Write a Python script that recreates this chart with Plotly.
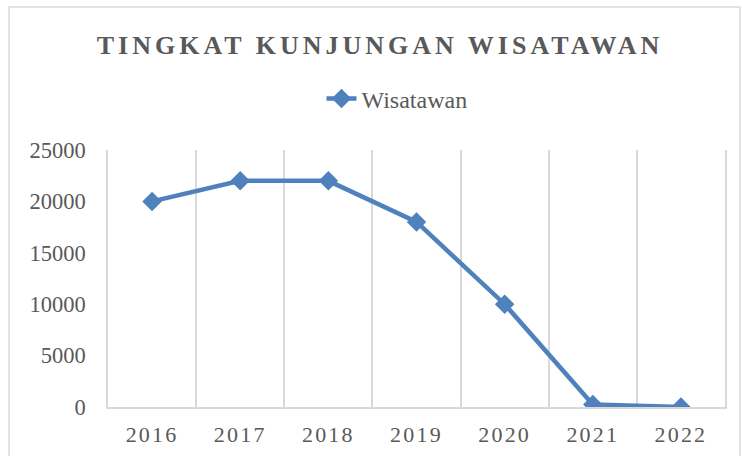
import plotly.graph_objects as go

years = ["2016", "2017", "2018", "2019", "2020", "2021", "2022"]
visitors = [20000, 22000, 22000, 18000, 10000, 250, 10]
series_name = "Wisatawan"
title_text = "TINGKAT KUNJUNGAN WISATAWAN"

BLUE = "#4F81BD"
GRID = "#D9D9D9"
TXT = "#595959"
FONT = "Liberation Serif, Times New Roman, serif"

fig = go.Figure()
fig.add_trace(go.Scatter(
    x=years, y=visitors, name=series_name, mode="lines+markers",
    line=dict(color=BLUE, width=4.5),
    marker=dict(symbol="diamond", size=15, color=BLUE),
))

L, R, T, B = 108, 17, 150, 49
W, H = 742, 456
pw, ph = W - L - R, H - T - B

def px_x(x):
    return (x - L) / pw

def px_y(y):
    return (H - B - y) / ph

fig.add_shape(type="rect", xref="paper", yref="paper",
              x0=px_x(9), x1=px_x(740), y0=px_y(470), y1=px_y(7),
              line=dict(color=GRID, width=1.5), layer="below")

fig.update_layout(
    width=W, height=H,
    margin=dict(l=L, r=R, t=T, b=B, autoexpand=False),
    paper_bgcolor="white", plot_bgcolor="white",
    font=dict(family=FONT, color=TXT, size=22),
    title=dict(text="<b>" + title_text + "</b>", x=380 / W, xanchor="center",
               y=1 - 45 / H, yanchor="middle",
               font=dict(size=26, color=TXT, family=FONT)),
    legend=dict(orientation="h", x=px_x(397), xanchor="center",
                y=px_y(99), yanchor="middle",
                font=dict(size=24, color=TXT, family=FONT),
                bgcolor="rgba(0,0,0,0)"),
    showlegend=True,
)
fig.update_xaxes(type="category", showgrid=True, gridcolor=GRID, gridwidth=1.5,
                 tickson="boundaries", ticks="", showline=True, linecolor=GRID,
                 linewidth=1.5, ticklabelstandoff=7, range=[-0.5, 6.5],
                 automargin=False,
                 tickfont=dict(size=22, color=TXT, family=FONT))
fig.update_yaxes(range=[0, 25000], dtick=5000, tickformat="d", showgrid=False,
                 zeroline=False, automargin=False,
                 showline=True, mirror=True, linecolor=GRID, linewidth=1.5,
                 ticks="", ticklabelstandoff=16,
                 tickfont=dict(size=22.5, color=TXT, family=FONT))

post = """
var s=document.createElement('style');
s.innerHTML='html,body{margin:0;padding:0;overflow:hidden;} .gtitle{letter-spacing:4px;} .xtick text{letter-spacing:2.2px;}';
document.head.appendChild(s);
"""
fig.write_html("out.html", post_script=post, config={"displayModeBar": False})
